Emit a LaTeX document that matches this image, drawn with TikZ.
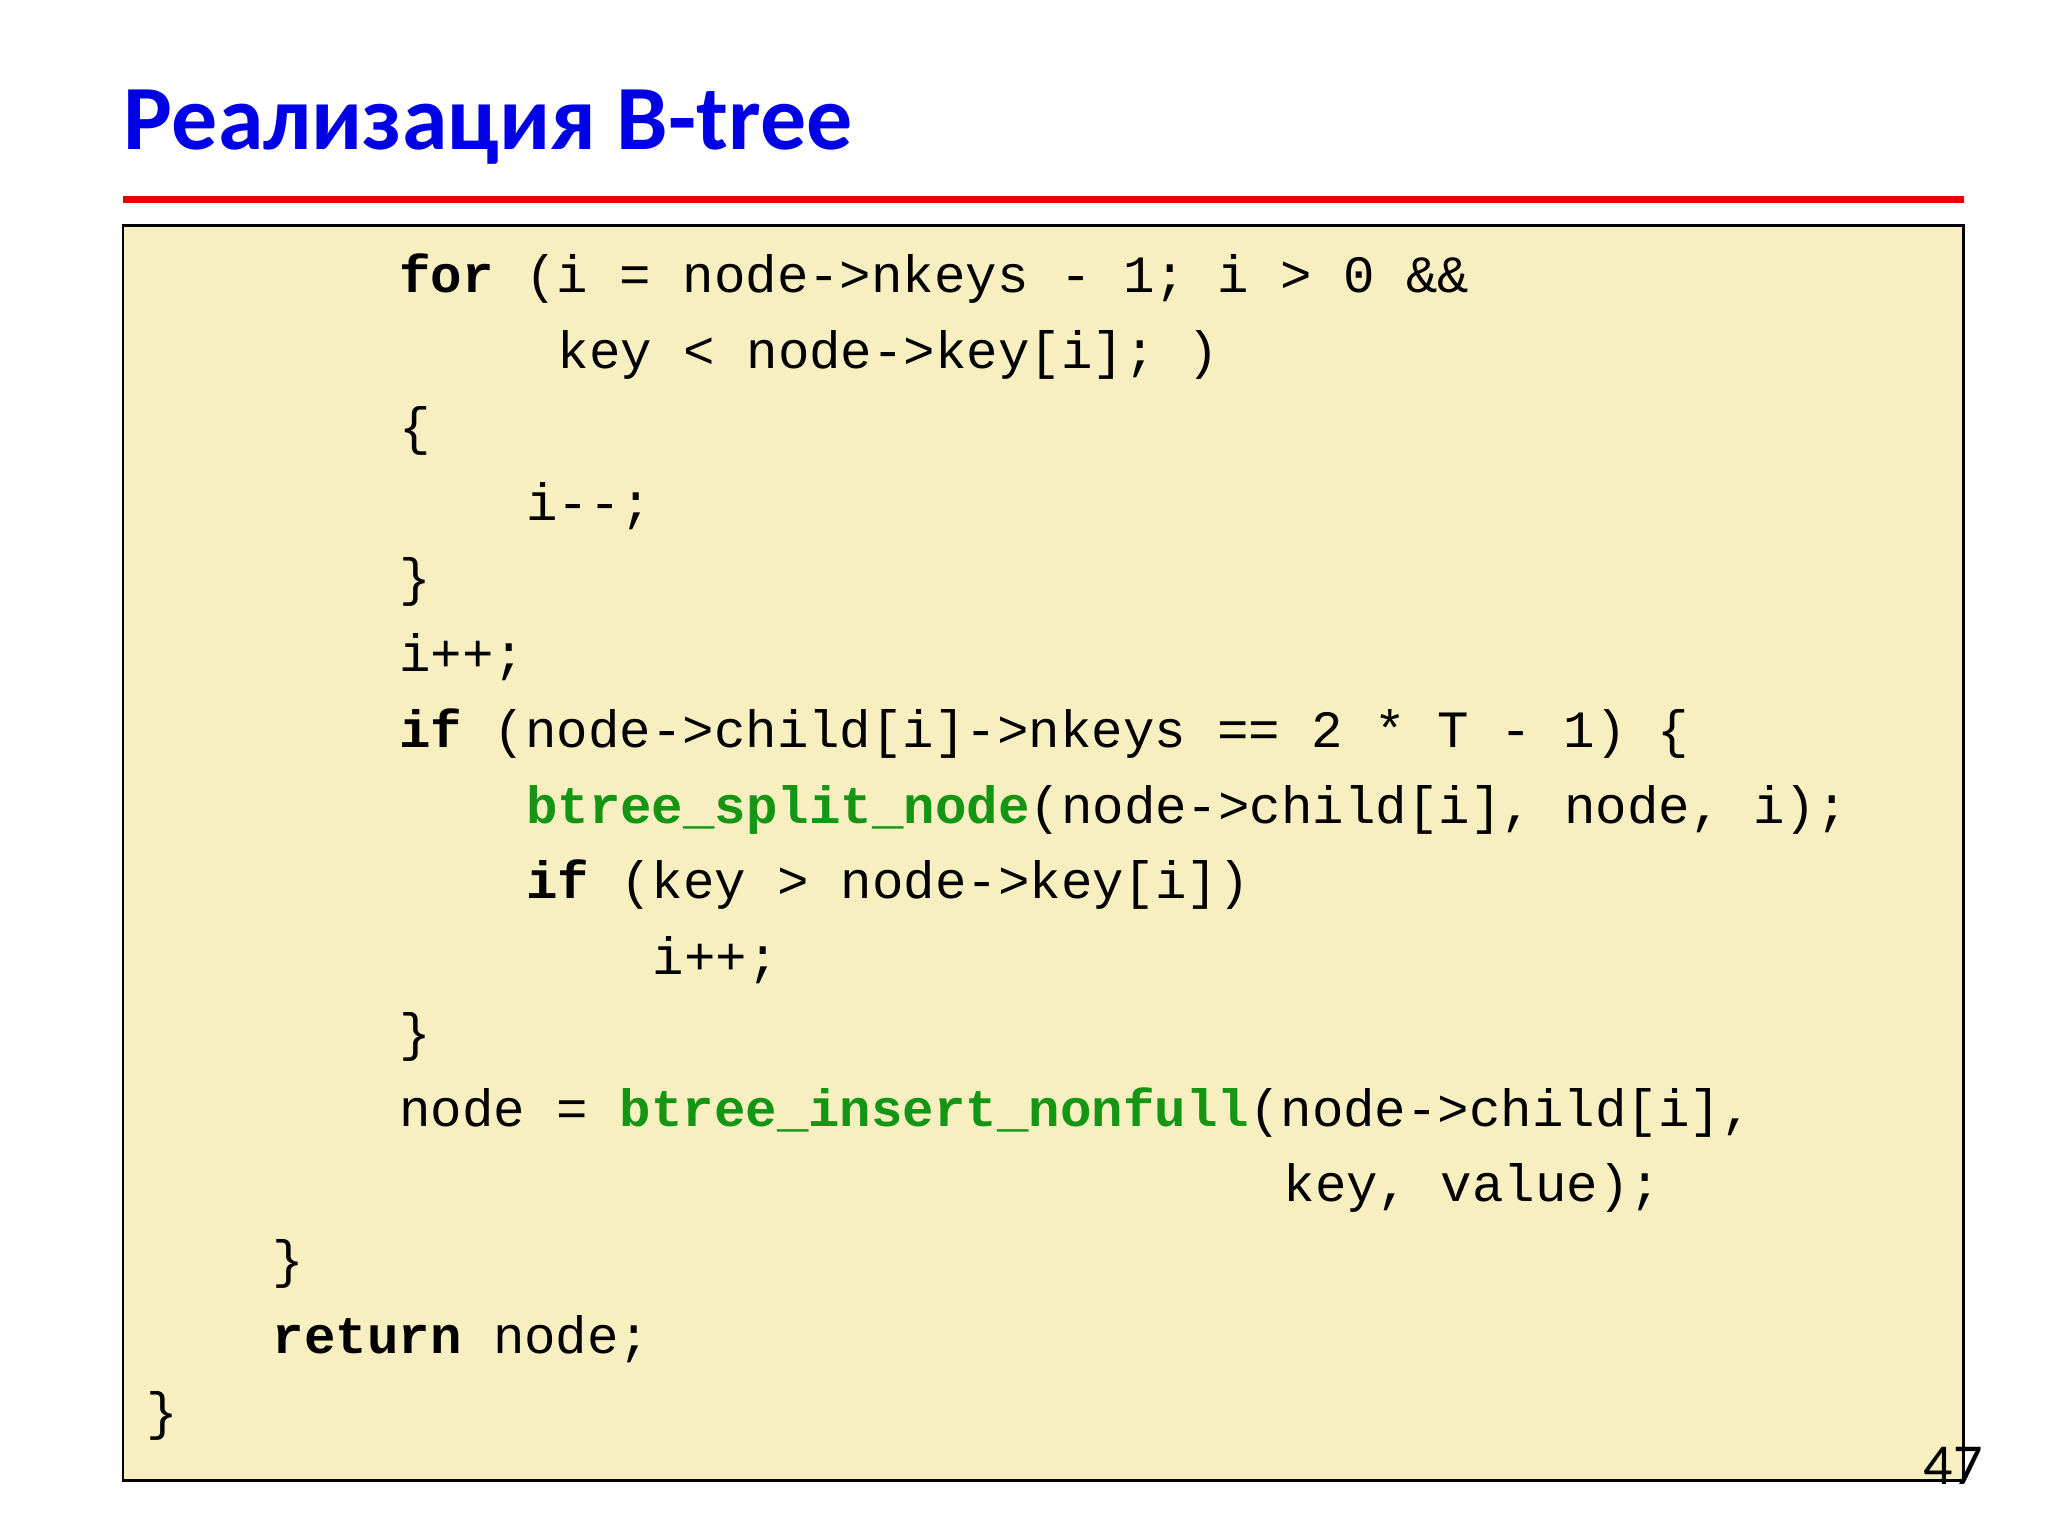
\documentclass[tikz,border=0pt]{standalone}
\usepackage{fontspec}
\setmainfont{Carlito}
\setmonofont{Liberation Mono}
\definecolor{ttl}{RGB}{0,0,230}
\definecolor{rl}{RGB}{235,0,0}
\definecolor{bx}{RGB}{247,239,192}
\definecolor{fn}{RGB}{20,150,20}
\begin{document}
\begin{tikzpicture}[x=0.01cm,y=-0.01cm,
  cl/.style={anchor=base west,inner sep=0pt,font=\ttfamily\fontsize{11.3}{13}\selectfont}]
\useasboundingbox (0,0) rectangle (1552,1164);
\fill[white] (0,0) rectangle (1552,1164);
\node[anchor=base west,inner sep=0pt,text=ttl,font=\bfseries\fontsize{19.8}{24}\selectfont] (title) at (93,113) {Реализация B-tree};
\draw[rl,line width=1.4pt] (93,151) -- (1488,151);
\draw[fill=bx,draw=black,line width=0.5pt] (93,171) rectangle (1488,1122);
\newcommand{\K}[1]{\textbf{#1}}
\newcommand{\F}[1]{\textcolor{fn}{\textbf{#1}}}
\node[cl] (l0) at (302,222) {\K{for} (i = node->nkeys - 1; i > 0 \&\&};
\node[cl] (l1) at (422,279.4) {key < node->key[i]; )};
\node[cl] (l2) at (302,336.8) {\{};
\node[cl] (l3) at (398,394.2) {i--;};
\node[cl] (l4) at (302,451.6) {\}};
\node[cl] (l5) at (302,509) {i++;};
\node[cl] (l6) at (302,566.4) {\K{if} (node->child[i]->nkeys == 2 * T - 1) \{};
\node[cl] (l7) at (398,623.8) {\F{btree\_split\_node}(node->child[i], node, i);};
\node[cl] (l8) at (398,681.2) {\K{if} (key > node->key[i])};
\node[cl] (l9) at (494,738.6) {i++;};
\node[cl] (l10) at (302,796) {\}};
\node[cl] (l11) at (302,853.4) {node = \F{btree\_insert\_nonfull}(node->child[i],};
\node[cl] (l12) at (972,910.8) {key, value);};
\node[cl] (l13) at (206,968.2) {\}};
\node[cl] (l14) at (206,1025.6) {\K{return} node;};
\node[cl] (l15) at (110,1083) {\}};
\node[anchor=base west,inner sep=0pt,font=\fontsize{12.5}{14}\selectfont] (pg) at (1457,1125) {47};
\end{tikzpicture}
\end{document}
